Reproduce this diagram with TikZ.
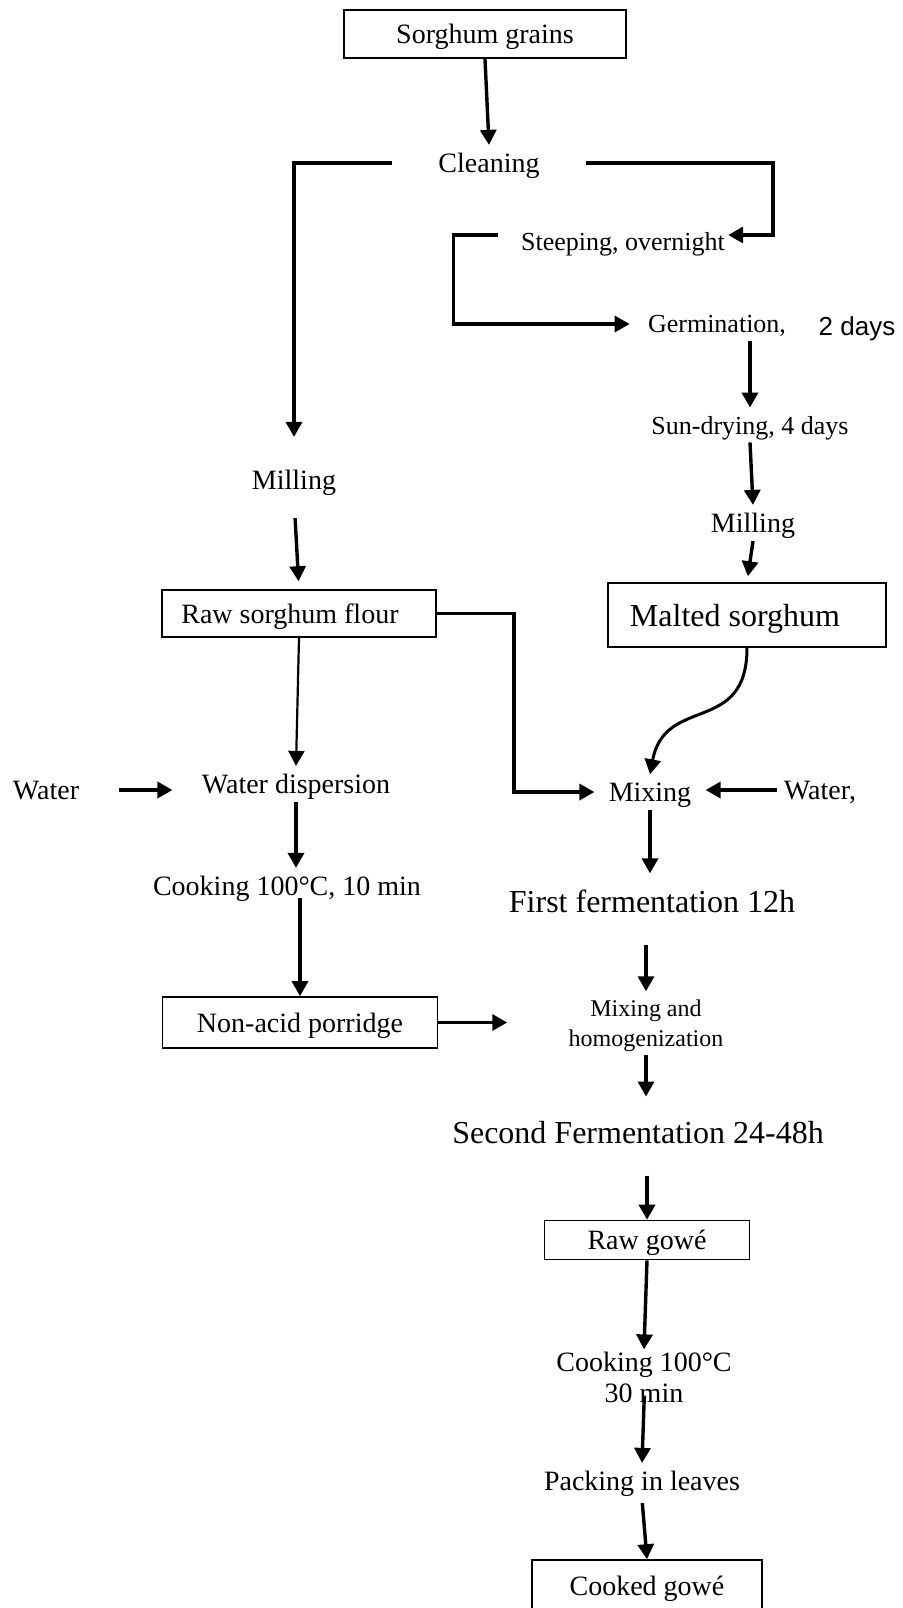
\documentclass[tikz,border=0pt]{standalone}
\usepackage{fontspec}
\setmainfont{Liberation Serif}
\newfontfamily\labelsans{Liberation Sans}
\usepackage{tikz}
\usetikzlibrary{arrows.meta,positioning}

\begin{document}
\begin{tikzpicture}[
                x=0.5pt, y=-0.5pt,
                >={Triangle[length=7.5pt,width=8pt]},
                prodbox/.style={
                    draw,
                    line width=0.8pt,
                    inner sep=0pt,
                    text depth=0pt,
                    font=\fontsize{14}{16}\selectfont
                    },
                stage/.style={
                    inner xsep=0pt,
                    inner ysep=4pt,
                    text depth=0pt,
                    font=\fontsize{14}{16}\selectfont
                    },
                smallstage/.style={
                    stage,
                    font=\fontsize{13}{15}\selectfont
                    },
                arrowline/.style={
                    ->,
                    line width=1.7pt
                    }
                ]

                \useasboundingbox (0,0) rectangle (903,1608);

                % boxes
                \node[prodbox, minimum width=141pt, minimum height=24pt] (grains) at (485,34) {Sorghum grains};
                \node[prodbox, minimum width=137pt, minimum height=23.5pt] (rawflour) at (299,613.5) {Raw sorghum flour\hspace*{9pt}};
                \node[prodbox, minimum width=139pt, minimum height=32pt, font=\fontsize{16}{18}\selectfont] (malted) at (747,615) {Malted sorghum\hspace*{12pt}};
                \node[prodbox, minimum width=137.5pt, minimum height=25.5pt] (porridge) at (300,1022.5) {Non-acid porridge};
                \node[prodbox, minimum width=102.5pt, minimum height=19.5pt] (rawgowe) at (647,1240) {Raw gow\'e};
                \node[prodbox, minimum width=115pt, minimum height=26pt] (cooked) at (647,1586) {Cooked gow\'e};

                % steps
                \node[stage, minimum width=96.5pt] (cleaning) at (489,163) {Cleaning};
                \node[smallstage, inner xsep=1.5pt] (steeping) at (623,241) {Steeping, overnight};
                \node[smallstage, inner xsep=9pt] (germ) at (717,324) {Germination,};
                \node[font=\labelsans\fontsize{13}{15}\selectfont, text depth=0pt] (days) at (857,326) {2 days};
                \node[smallstage] (sundry) at (750,425) {Sun-drying, 4 days};
                \node[stage] (millB) at (753,523) {Milling};
                \node[stage] (millA) at (294,480) {Milling};
                \node[stage] (wdisp) at (296,784) {Water dispersion};
                \node[stage] (waterA) at (46,790) {Water};
                \node[stage] (cook10) at (287,886) {Cooking 100°C, 10 min};
                \node[stage, inner xsep=7pt] (mixing) at (650,792) {Mixing};
                \node[stage, inner xsep=3.5pt] (water2) at (820,790) {Water,};
                \node[stage, font=\fontsize{16}{18}\selectfont] (first) at (652,901) {First fermentation 12h};
                \node[stage, align=center, font=\fontsize{12}{15}\selectfont] (mixhom) at (646,1023) {Mixing and\\homogenization};
                \node[stage, font=\fontsize{16}{18}\selectfont] (second) at (638,1132) {Second Fermentation 24-48h};
                \node[stage, align=center, inner ysep=1pt, font=\fontsize{14}{15.5}\selectfont] (cook30) at (644,1377) {Cooking 100°C\\30 min};
                \node[stage] (packing) at (642,1481) {Packing in leaves};

                % malting branch
                \draw[arrowline] (grains.south) to (cleaning.north);

                \draw[
                    arrowline
                ] (cleaning.east) -- ++(187,0) |- ([yshift=3pt]steeping.east);

                \draw[
                    arrowline
                ] ([xshift=-10pt,yshift=3pt]steeping.west) -- ++(-44,0) |- (germ.west);

                \draw[arrowline] (germ.south -| sundry.north) to (sundry.north);
                \draw[arrowline] (sundry.south) to (millB.north);

                \draw[
                    arrowline,
                    shorten >=3pt
                ] (millB.south) to (malted.north);

                \draw[
                    arrowline,
                    line width=1.5pt
                ] (malted.south) .. controls +(0,88) and +(15,-80) .. (mixing.north);

                % raw flour branch
                \draw[
                    arrowline,
                    shorten >=12.5pt
                ] (cleaning.west) -| (millA.north);

                \draw[
                    arrowline,
                    shorten <=10pt,
                    shorten >=4pt
                ] (millA.south) to (rawflour.north);

                \draw[
                    arrowline
                ] (rawflour.east) -- ++(77,0) |- (mixing.west);

                \draw[
                    arrowline,
                    line width=1.1pt
                ] (rawflour.south) to (wdisp.north);

                \draw[
                    arrowline,
                    shorten <=20pt,
                    shorten >=14.5pt
                ] (waterA.east) to (waterA.east -| wdisp.west);

                \draw[arrowline] (wdisp.south) to (wdisp.south |- cook10.north);

                \draw[
                    arrowline,
                    shorten <=-3pt
                ] (cook10.south -| porridge.north) to (porridge.north);

                \draw[
                    arrowline,
                    shorten >=30.5pt
                ] (porridge.east) to (porridge.east -| mixhom.west);

                % fermentation
                \draw[arrowline] (water2.west) to (water2.west -| mixing.east);

                \draw[
                    arrowline,
                    shorten >=4pt
                ] (mixing.south) to (mixing.south |- first.north);

                \draw[
                    arrowline,
                    shorten <=12pt
                ] (mixhom.north |- first.south) to (mixhom.north);

                \draw[
                    arrowline,
                    shorten >=8pt
                ] (mixhom.south) to (mixhom.south |- second.north);

                \draw[
                    arrowline,
                    shorten <=12pt
                ] (second.south -| rawgowe.north) to (rawgowe.north);

                \draw[arrowline] (rawgowe.south) to (cook30.north);

                \draw[
                    arrowline,
                    shorten <=-4.5pt
                ] (cook30.south) to (packing.north);

                \draw[
                    arrowline,
                    shorten <=2pt
                ] (packing.south) to (cooked.north);

\end{tikzpicture}
\end{document}
